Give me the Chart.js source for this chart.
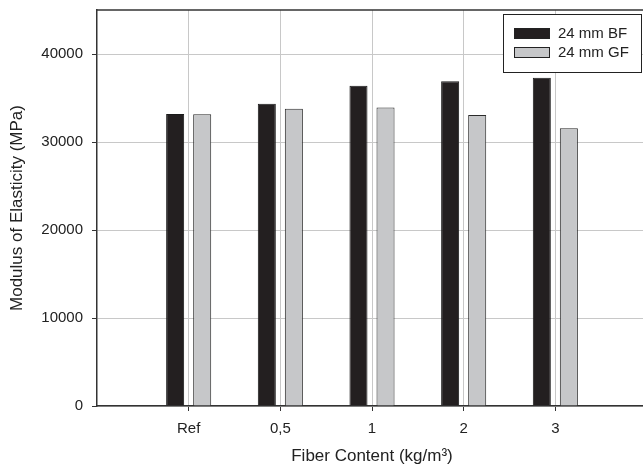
<!DOCTYPE html>
<html>
<head>
<meta charset="utf-8">
<script src="https://cdn.jsdelivr.net/npm/chart.js@4/dist/chart.umd.min.js"></script>
<style>
  html, body { margin: 0; padding: 0; background: #fff; overflow: hidden; }
  #wrap { width: 652px; height: 472px; }
</style>
</head>
<body>
<div id="wrap"><canvas id="chart" width="652" height="472"></canvas></div>
<script>
// Fiber content groups and modulus values (MPa)
const categories = ['Ref', '0,5', '1', '2', '3'];
const bfValues = [33180, 34350, 36400, 36900, 37300];
const gfValues = [33150, 33780, 33930, 33060, 31550];
const yTicks = [0, 10000, 20000, 30000, 40000];

const FONT = "'Liberation Sans', Arial, sans-serif";
const TEXT = '#222222';

const toPoints = (vals) => vals.map((v, i) => ({ x: i + 1, y: v }));

// top frame line + boxed legend inside the plot
const framePlugin = {
    id: 'frame',
    afterDraw(chart) {
        const { ctx, chartArea } = chart;
        ctx.save();
        ctx.strokeStyle = '#333';
        ctx.lineWidth = 1.5;
        ctx.beginPath();
        ctx.moveTo(chartArea.left, chartArea.top);
        ctx.lineTo(chartArea.right, chartArea.top);
        ctx.stroke();

        // legend
        const bx = 503, by = 14, bw = 138, bh = 58;
        ctx.fillStyle = '#fff';
        ctx.fillRect(bx, by, bw, bh);
        ctx.strokeStyle = '#222';
        ctx.lineWidth = 1;
        ctx.strokeRect(bx + 0.5, by + 0.5, bw, bh);
        ctx.font = '15px ' + FONT;
        ctx.textBaseline = 'middle';
        chart.data.datasets.forEach((ds, i) => {
            const sy = 28 + i * 19;
            ctx.fillStyle = ds.backgroundColor;
            ctx.fillRect(514, sy, 36, 11);
            ctx.strokeStyle = '#222';
            ctx.strokeRect(514.5, sy + 0.5, 35, 10);
            ctx.fillStyle = TEXT;
            ctx.fillText(ds.label, 558, sy + 6);
        });
        ctx.restore();
    }
};

new Chart(document.getElementById('chart'), {
    type: 'bar',
    data: {
        datasets: [
            {
                label: '24 mm BF',
                data: toPoints(bfValues),
                backgroundColor: '#231f20',
                borderColor: '#1a1a1a',
                borderWidth: 1
            },
            {
                label: '24 mm GF',
                data: toPoints(gfValues),
                backgroundColor: '#c6c7c9',
                borderColor: '#2a2a2a',
                borderWidth: 1
            }
        ]
    },
    options: {
        responsive: false,
        animation: false,
        devicePixelRatio: 1,
        categoryPercentage: 0.59,
        barPercentage: 0.667,
        layout: { padding: { top: 10, right: 5, left: 0, bottom: 0 } },
        plugins: { legend: { display: false }, tooltip: { enabled: false } },
        scales: {
            x: {
                type: 'linear',
                min: 0,
                max: 6,
                offset: false,
                afterBuildTicks: (scale) => {
                    scale.ticks = categories.map((c, i) => ({ value: i + 1 }));
                },
                afterFit: (scale) => {
                    scale.height = 66;
                    scale.paddingLeft = 0;
                    scale.paddingRight = 0;
                },
                border: { color: '#333', width: 1.5 },
                grid: { offset: false, color: '#c8c8c8', lineWidth: 1, tickLength: 5, tickColor: '#333' },
                ticks: {
                    color: TEXT,
                    padding: 9,
                    font: { family: FONT, size: 15 },
                    callback: (v) => categories[v - 1] ?? ''
                },
                title: {
                    display: true,
                    text: 'Fiber Content (kg/m³)',
                    color: TEXT,
                    font: { family: FONT, size: 17 },
                    padding: { top: 0, bottom: 5 }
                }
            },
            y: {
                min: 0,
                max: 45000,
                afterBuildTicks: (scale) => {
                    scale.ticks = yTicks.map(v => ({ value: v }));
                },
                afterFit: (scale) => {
                    scale.width = 97;
                    scale.paddingTop = 0;
                    scale.paddingBottom = 0;
                },
                border: { color: '#333', width: 1.5 },
                grid: { color: '#c8c8c8', lineWidth: 1, tickLength: 5, tickColor: '#333' },
                ticks: {
                    color: TEXT,
                    padding: 9,
                    font: { family: FONT, size: 15 },
                    callback: (v) => String(v)
                },
                title: {
                    display: true,
                    text: 'Modulus of Elasticity (MPa)',
                    color: TEXT,
                    font: { family: FONT, size: 17 },
                    padding: { top: 7, bottom: 0 }
                }
            }
        }
    },
    plugins: [framePlugin]
});
</script>
</body>
</html>
